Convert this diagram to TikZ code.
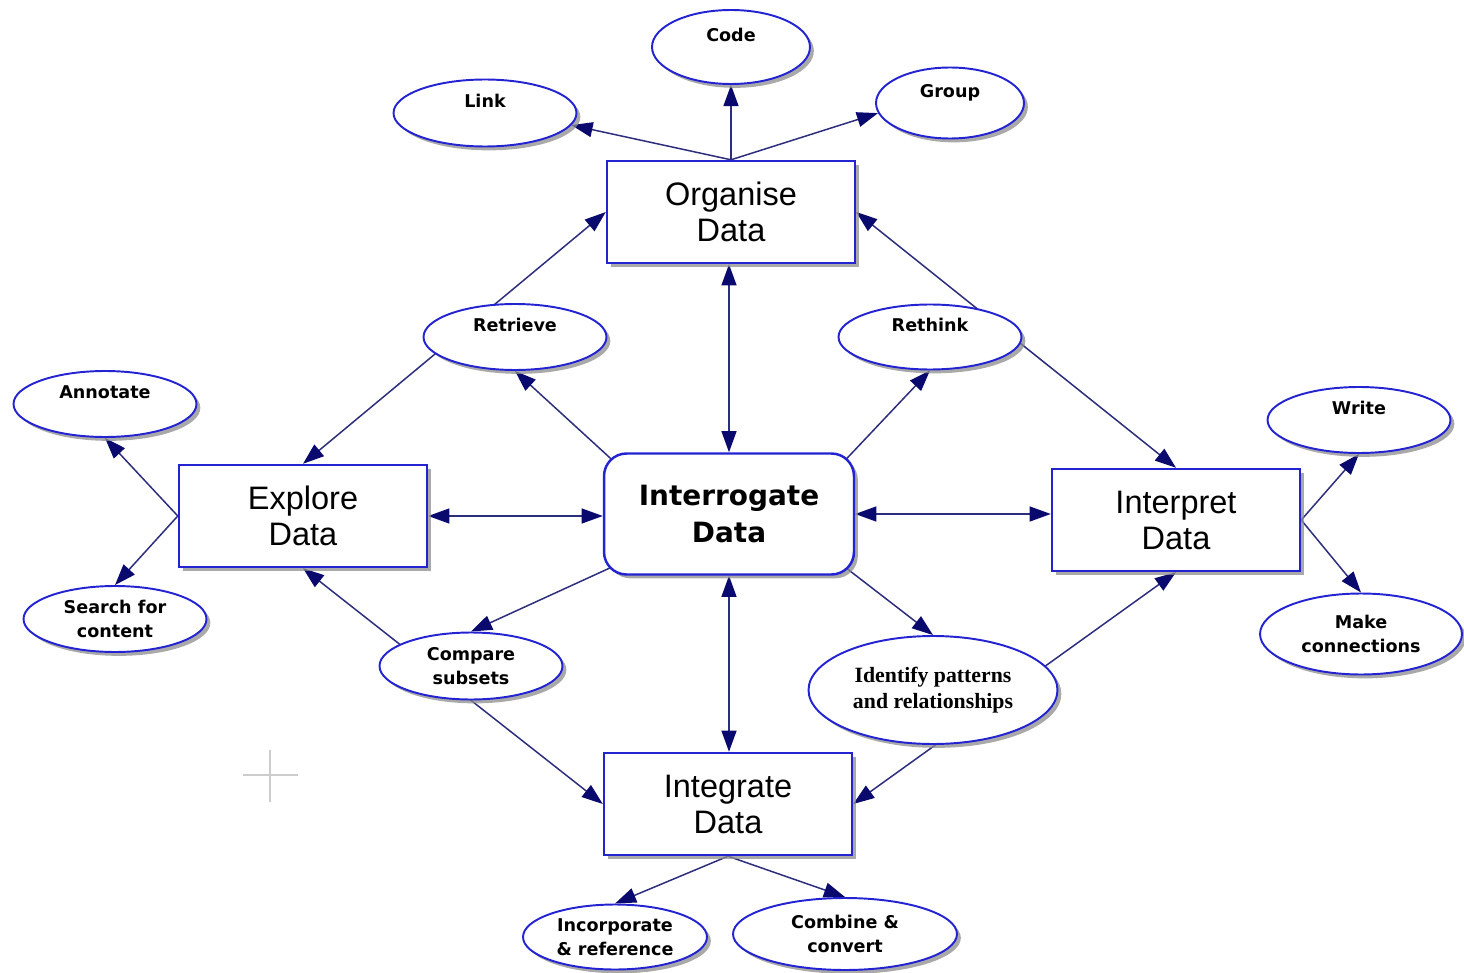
\documentclass[tikz,border=0pt]{standalone}
\usepackage{fontspec}
\setmainfont{Liberation Sans}
\newfontfamily\ovalfont{DejaVu Sans}
\newfontfamily\serifbold{Liberation Serif}
\usetikzlibrary{shapes.geometric,arrows.meta,shadows}
\pgfdeclarelayer{background}
\pgfsetlayers{background,main}
\definecolor{outl}{RGB}{35,35,210}
\definecolor{linec}{RGB}{45,45,125}
\definecolor{tipc}{RGB}{10,10,110}
\begin{document}
\begin{tikzpicture}[x=0.02cm,y=-0.02cm,
  shad/.style={drop shadow={shadow xshift=2.2pt,shadow yshift=-2.2pt,fill=black!45,opacity=0.75}},
  bigbox/.style={draw=outl,line width=1.4pt,fill=white,shad,minimum width=4.96cm,minimum height=2.04cm,inner sep=0pt,align=center,font=\fontsize{18.5}{20.5}\selectfont},
  hub/.style={bigbox,rounded corners=0.45cm,minimum width=5cm,minimum height=2.42cm,font=\ovalfont\bfseries\fontsize{15.9}{21}\selectfont},
  oval/.style={ellipse,draw=outl,line width=1.1pt,fill=white,shad,inner sep=0pt,align=center,minimum width=3.66cm,minimum height=1.32cm,font=\ovalfont\bfseries\fontsize{10}{13.6}\selectfont},
  conn/.style={draw=linec,line width=0.85pt,-{Triangle[length=12pt,width=8.5pt,color=tipc]}},
  conn2/.style={draw=linec,line width=0.85pt,{Triangle[length=12pt,width=8.5pt,color=tipc]}-{Triangle[length=12pt,width=8.5pt,color=tipc]}},
]
\useasboundingbox (0,0) rectangle (1464,973);

% main boxes
\node[bigbox] (org) at (731,212) {Organise\\Data};
\node[hub] (itg) at (729,514) {Interrogate\\Data};
\node[bigbox] (exp) at (303,516) {Explore\\Data};
\node[bigbox] (intp) at (1176,520) {Interpret\\Data};
\node[bigbox] (igr) at (728,804) {Integrate\\Data};

% ellipses
\node[oval,minimum width=3.16cm,minimum height=1.48cm] (code) at (731,47) {Code\\\phantom{C}};
\node[oval,minimum height=1.34cm] (link) at (485,113) {Link\\\phantom{L}};
\node[oval,minimum width=2.96cm,minimum height=1.42cm] (grp) at (950,103) {Group\\\phantom{G}};
\node[oval] (ret) at (515,337) {Retrieve\\\phantom{R}};
\node[oval,minimum height=1.30cm] (reth) at (930,337) {Rethink\\\phantom{R}};
\node[oval] (ann) at (105,404) {Annotate\\\phantom{A}};
\node[oval] (srch) at (115,619) {Search for\\content};
\node[oval] (wr) at (1359,420) {Write\\\phantom{W}};
\node[oval,minimum width=4.04cm,minimum height=1.62cm] (mk) at (1361,634) {Make\\connections};
\node[oval,minimum height=1.34cm] (cmp) at (471,666) {Compare\\subsets};
\node[oval,minimum width=4.98cm,minimum height=2.16cm,font=\serifbold\bfseries\fontsize{12.4}{14.7}\selectfont] (idf) at (933,690) {Identify patterns\\and relationships};
\node[oval,minimum width=3.68cm,minimum height=1.30cm] (inc) at (615,937) {Incorporate\\\& reference};
\node[oval,minimum width=4.48cm,minimum height=1.44cm] (cmb) at (845,934) {Combine \&\\convert};

\begin{pgfonlayer}{background}
% organise children
\draw[conn] (org.north) -- (link.-8);
\draw[conn] (org.north) -- (code.south);
\draw[conn] (org.north) -- (grp.188);
% outer diamond (passes behind the small ellipses)
\draw[conn2] (exp.north) -- (org.west);
\draw[conn2] (org.east) -- (intp.north);
\draw[conn2] (exp.south) -- (igr.west);
\draw[conn2] (igr.east) -- (intp.south);
% interrogate links
\draw[conn2] (itg.north) -- (itg.north |- org.south);
\draw[conn2] (itg.south) -- (itg.south |- igr.north);
\draw[conn2] (exp.east) -- (exp.east -| itg.west);
\draw[conn2] (itg.east) -- (itg.east -| intp.west);
\draw[conn] ([shift={(12,10)}]itg.north west) -- (ret.south);
\draw[conn] ([shift={(-12,10)}]itg.north east) -- (reth.south);
\draw[conn] ([shift={(12,-10)}]itg.south west) -- (cmp.north);
\draw[conn] ([shift={(-12,-10)}]itg.south east) -- (idf.north);
% explore children
\draw[conn] (exp.west) -- (ann.south);
\draw[conn] (exp.west) -- (srch.north);
% interpret children
\draw[conn] (intp.east) -- (wr.south);
\draw[conn] (intp.east) -- (mk.north);
% integrate children
\draw[conn] (igr.south) -- (inc.north);
\draw[conn] (igr.south) -- (cmb.north);
\end{pgfonlayer}

% faint cross mark
\draw[black!20,line width=1.2pt] (243,775) -- (298,775) (270,750) -- (270,802);
\end{tikzpicture}
\end{document}
